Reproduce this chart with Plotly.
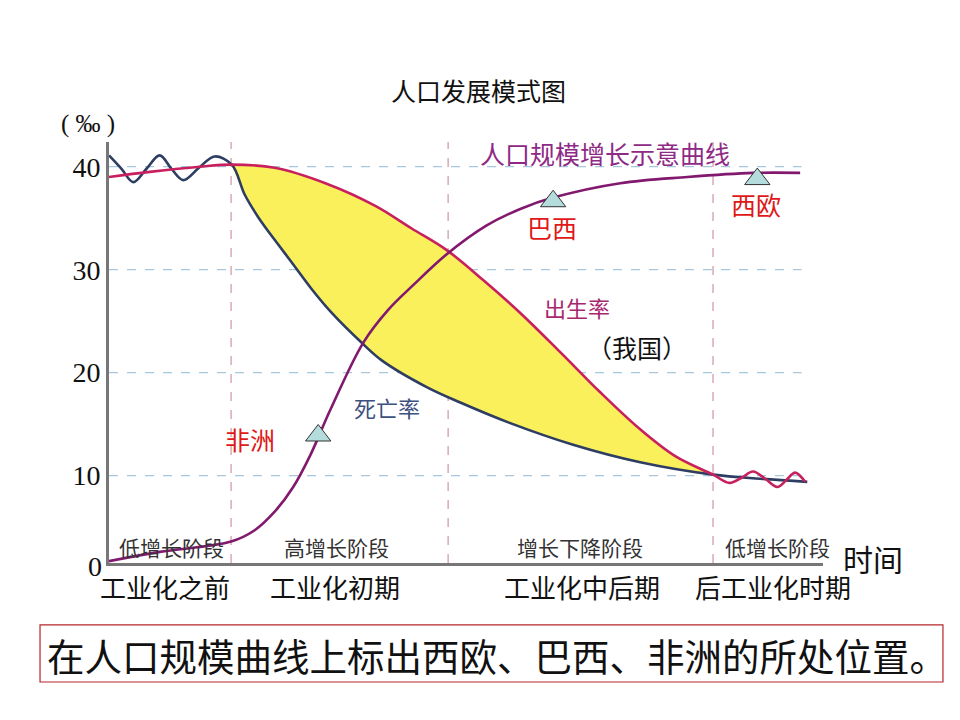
import plotly.graph_objects as go

# ---------------- data (time in arbitrary units 0-100, rates in ‰) ----------------
birth_t = [0, 5.7, 12.7, 17.2, 23.2, 30.3, 37.3, 42.4, 47.3, 52.4, 57.6, 63.2, 68.8,
           74.4, 79.3, 84.6, 86.9, 88.6, 90.2, 91.9, 93.6, 94.9, 96.1, 97.5]
birth_v = [39.0, 39.5, 40.0, 40.2, 39.9, 38.4, 36.2, 34.0, 31.9, 29.0, 25.8, 22.0, 18.1,
           14.5, 11.9, 10.1, 9.3, 9.8, 10.4, 9.7, 8.9, 9.6, 10.3, 9.4]

death_t = [0, 1.75, 3.4, 5.25, 7.1, 8.75, 10.4, 12.6, 14.8, 17.2, 19.0, 20.9, 23.2, 25.6,
           28.4, 31.2, 35.4, 38.2, 44.5, 49.2, 56.2, 65.0, 74.4, 84.6, 91.2, 97.8]
death_v = [41.1, 39.8, 38.5, 39.8, 41.1, 39.8, 38.7, 39.9, 41.0, 40.2, 37.3, 35.1, 32.9, 30.7,
           28.1, 25.8, 22.9, 21.2, 18.6, 17.1, 15.1, 13.0, 11.3, 10.1, 9.7, 9.4]

pop_t = [0, 7.1, 17.1, 20.4, 23.2, 25.8, 28.2, 31.0, 35.6, 39.1, 42.6, 47.3, 52.9, 57.6,
         62.2, 71.6, 81.0, 90.2, 96.8]
pop_v = [1.7, 2.6, 3.6, 4.7, 6.5, 8.9, 12.0, 16.4, 22.9, 26.1, 28.5, 31.5, 34.3, 35.9,
         37.0, 38.4, 39.0, 39.4, 39.4]

# fill range (high-growth to decline stages)
fill_start, fill_end = 17.2, 84.6

stage_bounds = [17.1, 47.5, 84.6]
grid_vals = [10, 20, 30, 40]
ytick_text = ["10", "20", "30", "40"]

stage_names = ["低增长阶段", "高增长阶段", "增长下降阶段", "低增长阶段"]
stage_x = [8.8, 31.9, 66.0, 93.6]
period_names = ["工业化之前", "工业化初期", "工业化中后期", "后工业化时期"]
period_x = [7.8, 31.6, 66.2, 93.0]

region_names = ["非洲", "巴西", "西欧"]
region_t = [29.3, 62.2, 90.8]
region_v = [13.9, 36.65, 38.8]
region_label_t = [19.7, 62.0, 90.6]
region_label_v = [13.6, 34.1, 36.4]

# ---------------- figure ----------------
fig = go.Figure()

CJK = "Noto Sans CJK SC"

bi = [i for i, t in enumerate(birth_t) if fill_start <= t <= fill_end]
di = [i for i, t in enumerate(death_t) if fill_start <= t <= fill_end]

fig.add_trace(go.Scatter(x=[death_t[i] for i in di], y=[death_v[i] for i in di],
                         mode="lines", line=dict(width=0, shape="spline", smoothing=1.0),
                         hoverinfo="skip", showlegend=False))
fig.add_trace(go.Scatter(x=[birth_t[i] for i in bi], y=[birth_v[i] for i in bi],
                         mode="lines", line=dict(width=0, shape="spline", smoothing=1.0),
                         fill="tonexty", fillcolor="#faf05c",
                         hoverinfo="skip", showlegend=False))

fig.add_trace(go.Scatter(x=death_t, y=death_v, mode="lines",
                         line=dict(color="#2e3d62", width=2.6, shape="spline", smoothing=1.0),
                         showlegend=False))
fig.add_trace(go.Scatter(x=birth_t, y=birth_v, mode="lines",
                         line=dict(color="#c8205e", width=2.6, shape="spline", smoothing=1.0),
                         showlegend=False))
fig.add_trace(go.Scatter(x=pop_t, y=pop_v, mode="lines",
                         line=dict(color="#82196e", width=2.6, shape="spline", smoothing=1.0),
                         showlegend=False))

fig.add_trace(go.Scatter(x=region_t, y=region_v, mode="markers",
                         marker=dict(symbol="triangle-up", size=22, color="#b4dcdc",
                                     line=dict(color="#333333", width=1)),
                         showlegend=False))

shapes = []
for g in grid_vals:
    shapes.append(dict(type="line", xref="x", yref="y", x0=0, x1=97, y0=g, y1=g,
                       line=dict(color="#a6c8de", width=1.3, dash="dash"), layer="below"))
for b in stage_bounds:
    shapes.append(dict(type="line", xref="x", yref="paper", x0=b, x1=b, y0=0, y1=1,
                       line=dict(color="#d9aab8", width=1.5, dash="dash"), layer="below"))
# instruction box
shapes.append(dict(type="rect", xref="paper", yref="paper", x0=-0.0966, x1=1.168,
                   y0=-0.2827, y1=-0.147, line=dict(color="#b5262a", width=1.2)))

ann = []
for name, x in zip(stage_names, stage_x):
    ann.append(dict(x=x, y=3.08, xref="x", yref="y", text=name, showarrow=False,
                    xanchor="center", yanchor="middle",
                    font=dict(family=CJK, size=21, color="#333333")))
for name, x in zip(period_names, period_x):
    ann.append(dict(x=x, y=-0.057, xref="x", yref="paper", text=name, showarrow=False,
                    xanchor="center", yanchor="middle",
                    font=dict(family=CJK, size=26, color="#111111")))
for name, x, y in zip(region_names, region_label_t, region_label_v):
    ann.append(dict(x=x, y=y, xref="x", yref="y", text=name, showarrow=False,
                    xanchor="center", yanchor="middle",
                    font=dict(family=CJK, size=25, color="#e01818")))

def pa(x, y, text, size, color, family=CJK, xanchor="center"):
    return dict(x=x, y=y, xref="paper", yref="paper", text=text, showarrow=False,
                xanchor=xanchor, yanchor="middle",
                font=dict(family=family, size=size, color=color))

def da(x, y, text, size, color):
    return dict(x=x, y=y, xref="x", yref="y", text=text, showarrow=False,
                xanchor="center", yanchor="middle",
                font=dict(family=CJK, size=size, color=color))

ann += [
    pa(0.517, 1.1235, "人口发展模式图", 25, "#111111"),
    pa(-0.029, 1.043, "( ‰ )", 25, "#111111", family="Liberation Serif"),
    pa(-0.0196, -0.0095, "0", 28, "#111111", family="Liberation Serif"),
    pa(1.070, 0.012, "时间", 30, "#111111"),
    da(69.5, 41.3, "人口规模增长示意曲线", 25, "#8e2a86"),
    da(65.6, 26.4, "出生率", 22, "#a8286e"),
    da(73.9, 22.5, "（我国）", 25, "#111111"),
    da(38.9, 16.7, "死亡率", 22, "#3d5080"),
    pa(-0.0896, -0.2185, "在人口规模曲线上标出西欧、巴西、非洲的所处位置。", 37.5, "#111111",
       xanchor="left"),
]

fig.update_layout(
    width=960, height=720,
    margin=dict(l=109, r=137, t=142, b=157),
    paper_bgcolor="white", plot_bgcolor="white",
    shapes=shapes, annotations=ann,
    xaxis=dict(range=[0, 100], showgrid=False, zeroline=False, showticklabels=False,
               ticks="", showline=True, linecolor="#777777", linewidth=3),
    yaxis=dict(range=[1.52, 42.4], showgrid=False, zeroline=False,
               tickvals=grid_vals, ticktext=ytick_text, ticks="",
               tickfont=dict(family="Liberation Serif", size=28, color="#111111"),
               showline=True, linecolor="#777777", linewidth=3),
)

fig.write_html("out.html")
